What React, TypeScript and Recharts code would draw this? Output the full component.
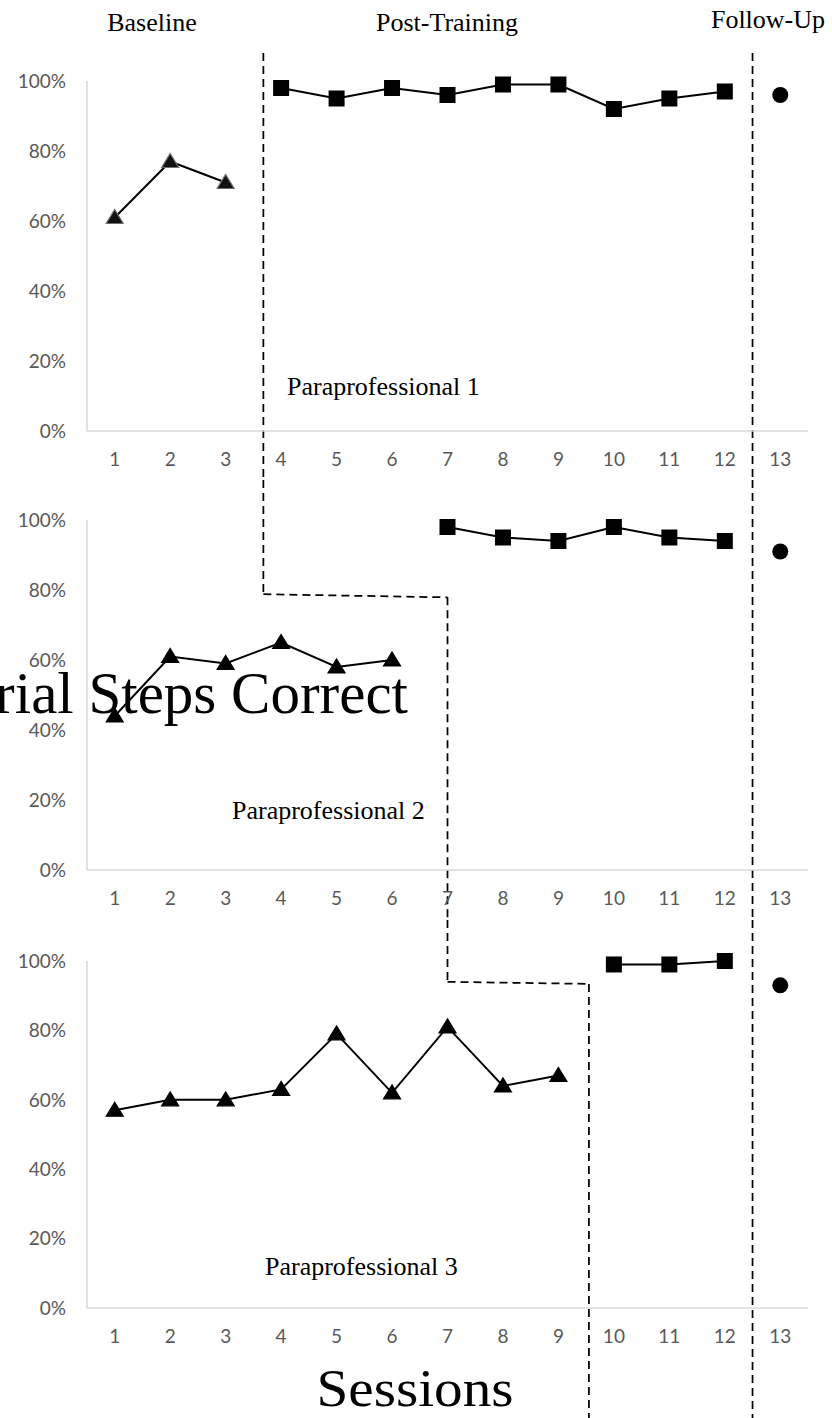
import React from 'react';
import { LineChart, Line, XAxis, YAxis, ReferenceLine } from 'recharts';

// sessions on the x axis and the percent ticks on the y axis
const sessions = [1, 2, 3, 4, 5, 6, 7, 8, 9, 10, 11, 12, 13];
const yTicks = [0, 20, 40, 60, 80, 100];

// Paraprofessional 1
const p1Baseline = [61, 77, 71];
const p1Post = [98, 95, 98, 96, 99, 99, 92, 95, 97];
const p1Follow = [96];

// Paraprofessional 2
const p2Baseline = [44, 61, 59, 65, 58, 60];
const p2Post = [98, 95, 94, 98, 95, 94];
const p2Follow = [91];

// Paraprofessional 3
const p3Baseline = [57, 60, 60, 63, 79, 62, 81, 64, 67];
const p3Post = [99, 99, 100];
const p3Follow = [93];

const phaseLabels = ['Baseline', 'Post-Training', 'Follow-Up'];
const panelLabels = ['Paraprofessional 1', 'Paraprofessional 2', 'Paraprofessional 3'];

type Row = { session: number; base: number | null; post: number | null; follow: number | null };
type Pt = { x: number; y: number };

const buildRows = (baseline: number[], post: number[], follow: number[]): Row[] => {
  const postStart = baseline.length;
  const followStart = postStart + post.length;
  return sessions.map((s, i) => ({
    session: s,
    base: i < postStart ? baseline[i] : null,
    post: i >= postStart && i < followStart ? post[i - postStart] : null,
    follow: i >= followStart ? follow[i - followStart] : null,
  }));
};

// dashed phase-change lines, in session / percent units of each panel
const p1Phase: [Pt, Pt][] = [
  [{ x: 3.68, y: 108 }, { x: 3.68, y: -14 }],
  [{ x: 12.5, y: 108 }, { x: 12.5, y: -14 }],
];
const p2Phase: [Pt, Pt][] = [
  [{ x: 3.68, y: 111.4 }, { x: 3.68, y: 78.8 }],
  [{ x: 3.68, y: 78.8 }, { x: 7.0, y: 77.9 }],
  [{ x: 7.0, y: 77.9 }, { x: 7.0, y: -14.3 }],
  [{ x: 12.5, y: 111.4 }, { x: 12.5, y: -14.3 }],
];
const p3Phase: [Pt, Pt][] = [
  [{ x: 7.0, y: 111.8 }, { x: 7.0, y: 94 }],
  [{ x: 7.0, y: 94 }, { x: 9.55, y: 93.4 }],
  [{ x: 9.55, y: 93.4 }, { x: 9.55, y: -31.7 }],
  [{ x: 12.5, y: 111.8 }, { x: 12.5, y: -31.7 }],
];

const tickStyle = { fill: '#595959', fontSize: 19, fontFamily: 'Lato, "Open Sans", sans-serif' };
const axisStyle = { stroke: '#d9d9d9', strokeWidth: 1.5 };

const triangleDot = (fill: string, stroke: string) => (props: any) => {
  const { cx, cy, index } = props;
  if (cx == null || cy == null) return <g key={`t${index}`} />;
  return (
    <path
      key={`t${index}`}
      d={`M${cx},${cy - 8} L${cx + 8.5},${cy + 6} L${cx - 8.5},${cy + 6} Z`}
      fill={fill}
      stroke={stroke}
      strokeWidth={1.2}
    />
  );
};

const squareDot = (props: any) => {
  const { cx, cy, index } = props;
  if (cx == null || cy == null) return <g key={`s${index}`} />;
  return <rect key={`s${index}`} x={cx - 8} y={cy - 8} width={16} height={16} fill="#000" />;
};

const circleDot = (props: any) => {
  const { cx, cy, index } = props;
  if (cx == null || cy == null) return <g key={`c${index}`} />;
  return <circle key={`c${index}`} cx={cx} cy={cy} r={8} fill="#000" />;
};

type PanelProps = {
  rows: Row[];
  height: number;
  marginTop: number;
  phase: [Pt, Pt][];
  baseFill: string;
  baseStroke: string;
};

const Panel = ({ rows, height, marginTop, phase, baseFill, baseStroke }: PanelProps) => (
  <LineChart width={832} height={height} data={rows} margin={{ top: marginTop, right: 24, bottom: 0, left: 7 }}>
    <XAxis
      type="number"
      dataKey="session"
      domain={[0.5, 13.5]}
      ticks={sessions}
      interval={0}
      allowDataOverflow
      height={50}
      tickLine={false}
      tickSize={0}
      tickMargin={22}
      axisLine={axisStyle}
      tick={tickStyle}
    />
    <YAxis
      domain={[0, 100]}
      ticks={yTicks}
      width={80}
      tickLine={false}
      tickSize={0}
      tickMargin={21}
      axisLine={axisStyle}
      tick={tickStyle}
      tickFormatter={(v) => `${v}%`}
    />
    {phase.map((seg, i) => (
      <ReferenceLine
        key={i}
        segment={seg}
        ifOverflow="visible"
        stroke="#000"
        strokeWidth={1.75}
        strokeDasharray="8 5"
      />
    ))}
    <Line
      dataKey="base"
      stroke="#000"
      strokeWidth={2}
      dot={triangleDot(baseFill, baseStroke)}
      activeDot={false}
      isAnimationActive={false}
    />
    <Line dataKey="post" stroke="#000" strokeWidth={2} dot={squareDot} activeDot={false} isAnimationActive={false} />
    <Line dataKey="follow" stroke="none" dot={circleDot} activeDot={false} isAnimationActive={false} />
  </LineChart>
);

const serif = '"Liberation Serif", "Times New Roman", serif';

export default function App() {
  return (
    <div style={{ position: 'relative', width: 832, height: 1418, overflow: 'hidden', background: '#fff' }}>
      <style>{`body{margin:0} .recharts-surface{overflow:visible}`}</style>
      <div style={{ position: 'absolute', left: 0, top: 0 }}>
        <Panel rows={buildRows(p1Baseline, p1Post, p1Follow)} height={481} marginTop={81} phase={p1Phase} baseFill="#111" baseStroke="#6e6e6e" />
      </div>
      <div style={{ position: 'absolute', left: 0, top: 480 }}>
        <Panel rows={buildRows(p2Baseline, p2Post, p2Follow)} height={440} marginTop={40} phase={p2Phase} baseFill="#000" baseStroke="#000" />
      </div>
      <div style={{ position: 'absolute', left: 0, top: 920 }}>
        <Panel rows={buildRows(p3Baseline, p3Post, p3Follow)} height={438} marginTop={41} phase={p3Phase} baseFill="#000" baseStroke="#000" />
      </div>
      <svg width={832} height={1418} style={{ position: 'absolute', left: 0, top: 0, pointerEvents: 'none' }}>
        <g fontFamily={serif} fill="#000">
          <text x={152} y={31} fontSize={26} textAnchor="middle">{phaseLabels[0]}</text>
          <text x={447} y={31} fontSize={26} textAnchor="middle">{phaseLabels[1]}</text>
          <text x={768} y={28} fontSize={26} textAnchor="middle">{phaseLabels[2]}</text>
          <text x={287} y={395} fontSize={26}>{panelLabels[0]}</text>
          <text x={232} y={819} fontSize={26}>{panelLabels[1]}</text>
          <text x={265} y={1275} fontSize={26}>{panelLabels[2]}</text>
          <text x={408} y={713} fontSize={59} textAnchor="end">Percentage of Tutorial Steps Correct</text>
          <text transform="translate(415,1406) scale(1.1,1)" fontSize={52} textAnchor="middle">Sessions</text>
        </g>
      </svg>
    </div>
  );
}
